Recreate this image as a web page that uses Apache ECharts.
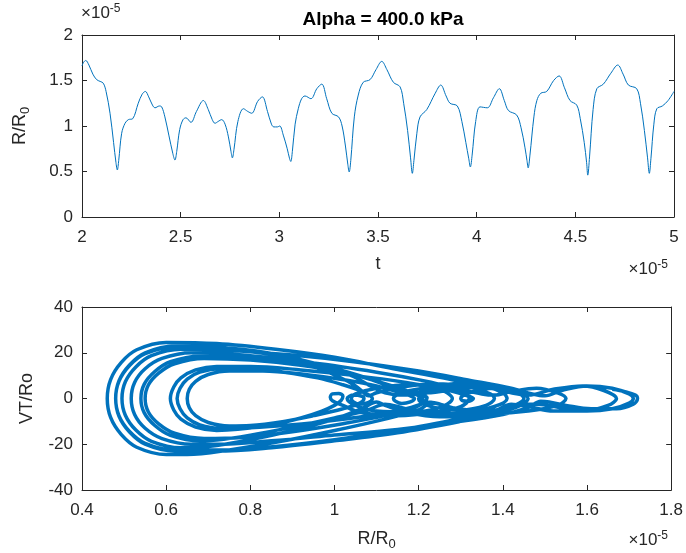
<!DOCTYPE html>
<html>
<head>
<meta charset="utf-8">
<script src="https://cdn.jsdelivr.net/npm/echarts@6/dist/echarts.min.js"></script>
<style>
html,body{margin:0;padding:0;background:#fff;}
#chart{width:686px;height:553px;}
</style>
</head>
<body>
<div id="chart"></div>
<script>
// ---------- Top panel: R/R0 (x1e-5) vs t (x1e-5) ----------
const timeVals = [2.000,2.008,2.019,2.035,2.055,2.074,2.092,2.108,2.122,2.142,2.160,2.172,2.179,2.186,2.201,2.218,2.235,2.257,2.285,2.305,2.321,2.338,2.357,2.370,2.392,2.404,2.420,2.440,2.460,2.471,2.480,2.495,2.512,2.527,2.552,2.580,2.615,2.640,2.660,2.674,2.690,2.708,2.725,2.742,2.755,2.762,2.770,2.790,2.818,2.840,2.860,2.890,2.914,2.940,2.960,2.972,2.990,3.002,3.020,3.040,3.052,3.058,3.066,3.080,3.096,3.113,3.130,3.160,3.190,3.215,3.240,3.266,3.300,3.318,3.335,3.347,3.354,3.362,3.380,3.400,3.425,3.460,3.490,3.519,3.545,3.578,3.612,3.630,3.650,3.665,3.674,3.682,3.697,3.713,3.747,3.790,3.818,3.845,3.865,3.902,3.925,3.945,3.960,3.968,3.977,3.995,4.017,4.054,4.085,4.115,4.140,4.161,4.203,4.225,4.245,4.255,4.261,4.270,4.290,4.305,4.325,4.355,4.390,4.418,4.445,4.473,4.507,4.525,4.545,4.557,4.563,4.572,4.590,4.609,4.642,4.680,4.715,4.742,4.769,4.811,4.830,4.850,4.866,4.875,4.883,4.898,4.913,4.941,4.970,5.000];
const radiusVals = [1.66,1.70,1.72,1.67,1.57,1.51,1.49,1.47,1.38,1.14,0.82,0.60,0.517,0.62,0.92,1.03,1.07,1.08,1.25,1.35,1.38,1.32,1.23,1.20,1.22,1.21,1.10,0.90,0.70,0.626,0.72,0.96,1.07,1.09,1.04,1.16,1.28,1.18,1.07,1.03,1.05,1.07,1.02,0.88,0.72,0.65,0.74,1.05,1.19,1.16,1.14,1.27,1.32,1.16,1.02,0.99,0.99,1.00,0.90,0.75,0.64,0.61,0.72,1.02,1.19,1.30,1.33,1.30,1.41,1.46,1.30,1.14,1.10,1.00,0.78,0.58,0.495,0.62,1.10,1.34,1.48,1.51,1.62,1.71,1.62,1.48,1.43,1.25,0.95,0.65,0.48,0.62,0.92,1.10,1.18,1.36,1.45,1.33,1.25,1.22,1.05,0.82,0.64,0.55,0.68,1.05,1.21,1.20,1.31,1.41,1.28,1.17,1.12,0.98,0.76,0.62,0.54,0.68,1.10,1.28,1.36,1.38,1.50,1.55,1.42,1.28,1.23,1.08,0.82,0.60,0.46,0.66,1.18,1.41,1.46,1.58,1.67,1.57,1.45,1.41,1.25,0.95,0.65,0.48,0.64,1.02,1.19,1.22,1.28,1.38];

// ---------- Bottom panel: phase portrait [R/R0 (x1e-5), VT/Ro], one array per cycle ----------
const cycle0 = [[1.66,4],[1.69,3],[1.715,1.5],[1.72,0],[1.71,-2.5],[1.67,-4.5],[1.61,-4.5],[1.55,-3],[1.51,-1.5],[1.49,-1.2],[1.46,-4],[1.40,-7],[1.30,-10],[1.15,-13.5],[1.0,-16],[0.85,-18.5],[0.72,-20],[0.66,-20],[0.59,-17.5],[0.55,-13],[0.525,-7],[0.517,0]];
const cycle1 = [[0.525,7],[0.55,13],[0.59,17.5],[0.66,20],[0.75,19.5],[0.86,17.5],[0.95,14],[1.01,9.5],[1.05,5.5],[1.07,2.5],[1.08,1.2],[1.10,2.5],[1.16,5],[1.24,6.5],[1.32,5],[1.37,2],[1.38,0],[1.36,-3],[1.30,-5],[1.24,-4],[1.205,-1.5],[1.20,0],[1.21,1.2],[1.22,0.3],[1.21,-2],[1.17,-4.5],[1.10,-7],[1.0,-9.5],[0.9,-11.5],[0.80,-12.8],[0.73,-13],[0.68,-11.5],[0.65,-8.5],[0.633,-4.5],[0.626,0]];
const cycle2 = [[0.633,4.5],[0.65,8.5],[0.68,11.5],[0.73,13],[0.80,13],[0.88,11.5],[0.96,9],[1.02,6],[1.06,3.5],[1.085,1.2],[1.09,0],[1.08,-1.8],[1.06,-2.5],[1.045,-1.5],[1.04,0],[1.05,2],[1.10,4.5],[1.18,6],[1.25,4],[1.28,0],[1.25,-4],[1.18,-6],[1.10,-5.5],[1.05,-3],[1.03,0],[1.045,1.5],[1.065,1],[1.07,0],[1.06,-2],[1.02,-4.5],[0.95,-7.5],[0.88,-10],[0.80,-11.8],[0.75,-12],[0.70,-10.5],[0.67,-7.5],[0.655,-4],[0.65,0]];
const cycle3 = [[0.655,4],[0.67,7.5],[0.70,10.5],[0.75,12],[0.83,12],[0.93,10.5],[1.03,8],[1.10,5.5],[1.15,3],[1.18,1.2],[1.19,0],[1.18,-1.5],[1.16,-2.2],[1.145,-1.2],[1.14,0],[1.16,2.5],[1.22,4.5],[1.28,4],[1.315,1.5],[1.32,0],[1.30,-3.5],[1.24,-6],[1.15,-7.5],[1.06,-6],[1.02,-3],[0.995,-1],[0.99,0.5],[0.995,2],[1.01,2.2],[1.02,1],[1.015,-1],[1.0,-3],[0.97,-5.5],[0.92,-8.5],[0.85,-11.5],[0.77,-13.5],[0.72,-14],[0.67,-12.5],[0.635,-9],[0.618,-5],[0.61,0]];
const cycle4 = [[0.618,5],[0.635,9],[0.67,12.5],[0.72,14],[0.80,14],[0.92,12.5],[1.05,10],[1.17,7],[1.26,4],[1.31,1.5],[1.33,0],[1.32,-1.2],[1.305,-1],[1.30,0],[1.32,2.5],[1.38,4.5],[1.43,3],[1.46,0],[1.43,-4],[1.35,-7],[1.25,-8],[1.17,-6],[1.12,-3],[1.10,-1.5],[1.07,-4],[1.0,-9],[0.90,-14],[0.80,-18],[0.70,-21],[0.635,-21.5],[0.565,-18.7],[0.528,-13.8],[0.503,-7.3],[0.495,0]];
const cycle5 = [[0.503,7.3],[0.528,13.8],[0.565,18.7],[0.635,21.5],[0.75,21],[0.90,19],[1.05,16],[1.20,12],[1.32,8],[1.42,4.5],[1.47,2],[1.50,1.2],[1.54,3.5],[1.60,5.5],[1.66,4.5],[1.70,2],[1.71,0],[1.70,-2],[1.66,-4.5],[1.60,-5.5],[1.54,-4],[1.48,-2.5],[1.44,-2.5],[1.40,-6],[1.30,-10],[1.15,-15],[1.0,-18.5],[0.85,-21.5],[0.72,-23],[0.62,-23],[0.55,-20],[0.513,-14.7],[0.488,-7.8],[0.48,0]];
const cycle6 = [[0.488,7.8],[0.513,14.7],[0.55,20],[0.62,23],[0.72,22.5],[0.84,20],[0.95,15.5],[1.04,10],[1.09,5],[1.12,2.5],[1.16,1.5],[1.19,2],[1.25,5.5],[1.33,7],[1.41,4.5],[1.45,0],[1.42,-3.5],[1.35,-5.5],[1.28,-4],[1.24,-2],[1.22,-1.5],[1.19,-4],[1.12,-7.5],[1.02,-11],[0.90,-14.5],[0.78,-17],[0.69,-17.5],[0.62,-15.2],[0.583,-11.2],[0.558,-6],[0.55,0]];
const cycle7 = [[0.558,6],[0.583,11.2],[0.62,15.2],[0.69,17.5],[0.80,16.8],[0.92,14.5],[1.03,11],[1.11,7],[1.17,3.5],[1.20,1.2],[1.21,0],[1.205,-0.8],[1.20,0],[1.22,2.5],[1.28,5],[1.35,5.5],[1.40,2.5],[1.41,0],[1.38,-3.5],[1.30,-6.5],[1.22,-6.5],[1.16,-4],[1.12,-2.5],[1.08,-5],[1.0,-8.5],[0.90,-12.5],[0.80,-16],[0.72,-18.2],[0.68,-18.5],[0.61,-16.1],[0.573,-11.8],[0.548,-6.3],[0.54,0]];
const cycle8 = [[0.548,6.3],[0.573,11.8],[0.61,16.1],[0.68,18.5],[0.80,18],[0.95,15.5],[1.10,11.5],[1.22,7.5],[1.30,4],[1.35,2],[1.38,1.5],[1.42,3],[1.48,4.5],[1.53,2.5],[1.55,0],[1.53,-3],[1.46,-5.5],[1.38,-6.5],[1.30,-5],[1.25,-2.5],[1.23,-2],[1.20,-5],[1.12,-9],[1.0,-14],[0.88,-18.5],[0.75,-22.5],[0.65,-24.5],[0.60,-24.5],[0.53,-21.3],[0.493,-15.7],[0.468,-8.3],[0.46,0]];
const cycle9 = [[0.468,8.3],[0.493,15.7],[0.53,21.3],[0.60,24.5],[0.72,24],[0.86,21.5],[1.0,18],[1.14,13],[1.26,9],[1.36,5],[1.42,2.5],[1.46,1.5],[1.52,4],[1.59,5.5],[1.64,3.5],[1.67,0],[1.65,-3],[1.59,-5.5],[1.52,-5.5],[1.46,-3.5],[1.42,-2.5],[1.38,-5.5],[1.28,-9.5],[1.15,-14],[1.0,-18],[0.86,-21],[0.74,-22.5],[0.62,-22.5],[0.55,-19.6],[0.513,-14.4],[0.488,-7.6],[0.48,0]];
const cycle10 = [[0.488,7.6],[0.513,14.4],[0.55,19.6],[0.62,22.5],[0.72,22],[0.84,19.5],[0.96,15],[1.06,10],[1.13,5.5],[1.18,3],[1.22,2.5],[1.30,4.5],[1.38,5]];

// ---------- Tick settings ----------
const topXTicks = {min: 2, max: 5, interval: 0.5};
const topYTicks = {min: 0, max: 2, interval: 0.5};
const botXTicks = {min: 0.4, max: 1.8, interval: 0.2};
const botYTicks = {min: -40, max: 40, interval: 20};

const FONT = '"Liberation Sans", Arial, Helvetica, sans-serif';
const AX = '#262626';
const BLUE = '#0072BD';
const TICK_FS = 17;

const topData = timeVals.map((t, i) => [t, radiusVals[i]]);
const phaseData = [].concat(cycle0, cycle1, cycle2, cycle3, cycle4, cycle5, cycle6, cycle7, cycle8, cycle9, cycle10);

function fmt(v) { return String(Math.round(v * 1000) / 1000); }

function mainAxis(ticks, grid, pos, extra) {
  return Object.assign({
    type: 'value', gridIndex: grid, position: pos,
    min: ticks.min, max: ticks.max, interval: ticks.interval,
    axisLine: {show: true, onZero: false, lineStyle: {color: AX, width: 1}},
    axisTick: {show: true, inside: true, length: 5, lineStyle: {color: AX}},
    splitLine: {show: false},
    axisLabel: {show: true, color: AX, fontFamily: FONT, fontSize: TICK_FS, margin: 9, formatter: fmt}
  }, extra || {});
}
function boxAxis(ticks, grid, pos) {
  return {
    type: 'value', gridIndex: grid, position: pos,
    min: ticks.min, max: ticks.max, interval: ticks.interval,
    axisLine: {show: true, onZero: false, lineStyle: {color: AX, width: 1}},
    axisTick: {show: true, inside: true, length: 5, lineStyle: {color: AX}},
    splitLine: {show: false},
    axisLabel: {show: false}
  };
}
const nameStyle = {
  color: AX, fontFamily: FONT, fontSize: 18,
  rich: {
    n: {color: AX, fontFamily: FONT, fontSize: 18},
    s: {color: AX, fontFamily: FONT, fontSize: 13, verticalAlign: 'bottom', padding: [11, 0, 0, 0]}
  }
};
const xLabel = {show: true, color: AX, fontFamily: FONT, fontSize: TICK_FS, margin: 12, formatter: fmt};
const expRich = {a: {fontFamily: FONT, fontSize: 17, fill: AX}, b: {fontFamily: FONT, fontSize: 12, fill: AX, verticalAlign: 'top', padding: [0, 0, 9, 0]}};

const chart = echarts.init(document.getElementById('chart'), null, {renderer: 'canvas'});
chart.setOption({
  backgroundColor: '#ffffff',
  animation: false,
  title: {
    text: 'Alpha = 400.0 kPa', left: 378, top: 5, textAlign: 'center',
    textStyle: {fontFamily: FONT, fontSize: 19, fontWeight: 'bold', color: '#000'}
  },
  grid: [
    {left: 82, right: 12, top: 35, height: 182},
    {left: 82, right: 12, top: 307, height: 183}
  ],
  xAxis: [
    mainAxis(topXTicks, 0, 'bottom', {name: 't', nameLocation: 'middle', nameGap: 38, nameTextStyle: nameStyle, axisLabel: xLabel}),
    boxAxis(topXTicks, 0, 'top'),
    mainAxis(botXTicks, 1, 'bottom', {name: '{n|R/R}{s|0}', nameLocation: 'middle', nameGap: 37, nameTextStyle: nameStyle, axisLabel: xLabel}),
    boxAxis(botXTicks, 1, 'top')
  ],
  yAxis: [
    mainAxis(topYTicks, 0, 'left', {name: '{n|R/R}{s|0}', nameLocation: 'middle', nameGap: 50, nameRotate: 90, nameTextStyle: nameStyle}),
    boxAxis(topYTicks, 0, 'right'),
    mainAxis(botYTicks, 1, 'left', {name: 'VT/Ro', nameLocation: 'middle', nameGap: 46, nameRotate: 90, nameTextStyle: nameStyle}),
    boxAxis(botYTicks, 1, 'right')
  ],
  series: [
    {
      type: 'line', xAxisIndex: 0, yAxisIndex: 0, data: topData,
      showSymbol: false, smooth: 0.35, lineStyle: {color: BLUE, width: 1}, silent: true
    },
    {
      type: 'line', xAxisIndex: 2, yAxisIndex: 2, data: phaseData,
      showSymbol: false, smooth: 0.35, lineStyle: {color: BLUE, width: 3.5}, silent: true
    }
  ],
  graphic: [
    {type: 'text', left: 81, top: 3, style: {text: '{a|\u00d710}{b|-5}', rich: expRich}},
    {type: 'text', right: 18, top: 259, style: {text: '{a|\u00d710}{b|-5}', rich: expRich}},
    {type: 'text', right: 18, top: 530, style: {text: '{a|\u00d710}{b|-5}', rich: expRich}}
  ]
});
</script>
</body>
</html>
